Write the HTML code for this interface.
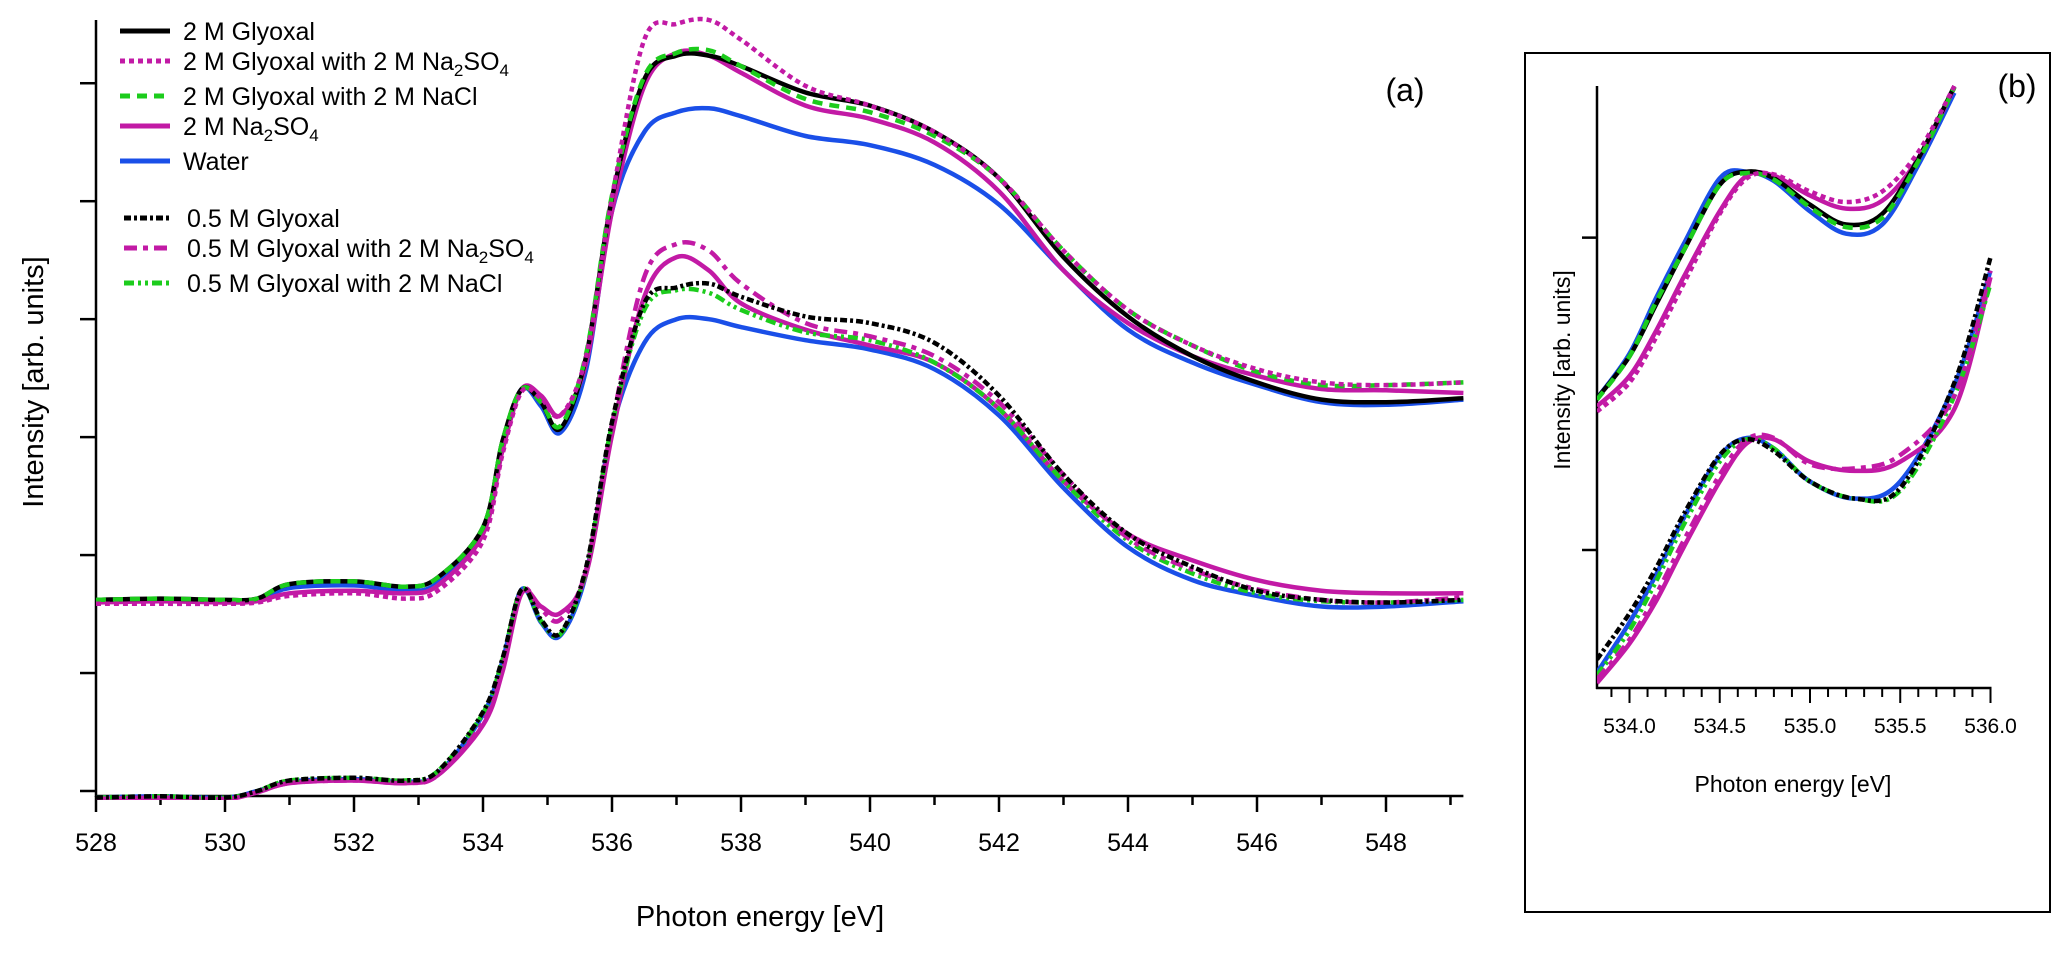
<!DOCTYPE html>
<html><head><meta charset="utf-8"><style>
body{margin:0;background:#fff;}
svg{display:block;font-family:"Liberation Sans",Arial,sans-serif;}
</style></head><body>
<svg id="chart" width="2067" height="955" viewBox="0 0 2067 955">
<defs>
<clipPath id="clipA"><rect x="96" y="15" width="1368" height="785"/></clipPath>
<clipPath id="clipB"><rect x="1597" y="80" width="400" height="608"/></clipPath>
</defs>
<g id="panelA"></g>
<g id="panelB"></g>
</svg>
<script>
const NS="http://www.w3.org/2000/svg";
// ---- Panel (a) data ----
const energyA=[528,529,530,530.5,531,532,532.8,533.3,534,534.3,534.6,534.9,535.2,535.6,536,536.5,537,537.5,538,539,540,541,542,543,544,545,546,547,548,549.2];
const glyoxal2M=[145,146,145,146,157,159,155,162,200,265,305,295,275,330,450,540,558,558,550,530,520,500,465,405,360,330,310,297,295,298];
const glyoxal2MNa2SO4=[142,142,142,143,148,150,146,152,190,255,303,298,285,330,450,570,582,585,570,535,520,500,465,410,365,338,320,310,308,310];
const glyoxal2MNaCl=[145,146,145,146,157,159,155,162,200,265,305,295,277,332,452,542,560,562,550,525,515,497,465,410,365,338,318,308,308,310];
const na2so4Upper=[143,144,143,144,150,152,150,156,195,258,305,300,285,325,440,535,560,558,545,520,510,492,455,395,355,330,315,305,304,302];
const waterUpper=[144,145,144,145,154,156,152,158,198,262,305,292,272,320,440,500,515,518,512,497,490,475,445,395,350,325,308,295,293,297];
const glyoxal05M=[-5,-4,-5,0,8,10,8,15,60,100,153,130,120,170,280,370,382,385,375,360,355,340,300,240,195,170,152,145,143,145];
const glyoxal05MNa2SO4=[-6,-5,-6,-1,6,8,6,12,52,92,152,138,130,168,278,390,415,410,385,355,345,330,295,240,192,168,153,145,143,147];
const glyoxal05MNaCl=[-5,-4,-5,0,8,10,8,15,59,99,153,129,119,168,278,365,380,378,365,348,342,325,290,235,190,165,150,144,143,145];
const na2so4Lower=[-6,-5,-6,-1,6,8,6,12,50,90,150,140,135,165,270,375,405,395,370,350,338,325,290,235,195,175,160,152,150,150];
const waterLower=[-5,-4,-5,0,7,9,7,13,58,98,153,128,118,165,275,340,358,358,352,342,335,320,285,230,185,160,148,140,140,144];
const xTicksA=[528,530,532,534,536,538,540,542,544,546,548];
const yTicksA=[0,89.5,179,268.5,358,447.5,537];
// ---- Panel (b) data ----
const energyBUp=[533.82,534.0,534.15,534.3,534.5,534.65,534.8,535.0,535.2,535.4,535.6,535.8];
const bGlyoxal2M=[115,147,187,227,277,287,282,262,247,255,297,352];
const bWaterUp=[115,149,192,232,282,287,280,257,240,247,292,347];
const bGlyoxal2MNaCl=[114,147,189,227,277,286,281,260,245,252,295,351];
const bNa2so4Up=[109,132,167,207,257,284,284,269,259,265,297,351];
const bGlyoxal2MNa2SO4=[105,127,162,202,255,282,285,272,264,272,302,352];
const energyBLow=[533.82,534.0,534.15,534.3,534.5,534.65,534.8,535.0,535.25,535.5,535.8,536.0];
const bGlyoxal05M=[-83,-48,-13,27,72,84,75,52,39,47,127,222];
const bWaterLow=[-93,-55,-18,24,71,85,77,52,39,52,125,212];
const bGlyoxal05MNaCl=[-95,-61,-23,19,67,84,77,52,39,45,117,202];
const bNa2so4Low=[-101,-71,-38,2,52,81,84,67,60,67,107,207];
const bGlyoxal05MNa2SO4=[-98,-68,-33,7,57,84,85,65,62,72,117,212];
const xTicksB=[534.0,534.5,535.0,535.5,536.0];
const yTicksB=[0,237];

const BLK="#000",MAG="#c21aa5",GRN="#1ccc1c",BLU="#1a4fe8";
const ST={solid:null,dot:"5 4",dash:"10 7",dd:"7 3 3 3",mdd:"13 6 5 6",gdd:"10 4 3 4 3 4"};

function xA(e){return 96+(e-528)*64.5;}
function yA(v){return 791-v*1.318;}
function xB(e){return 1597+(e-533.82)*180.5;}
function yB(v){return 550-v*1.318;}

function el(tag,attrs,parent){const e=document.createElementNS(NS,tag);for(const k in attrs)e.setAttribute(k,attrs[k]);parent.appendChild(e);return e;}
function smooth(pts){let d="M"+pts[0][0].toFixed(1)+","+pts[0][1].toFixed(1);
 for(let i=0;i<pts.length-1;i++){const p0=pts[Math.max(0,i-1)],p1=pts[i],p2=pts[i+1],p3=pts[Math.min(pts.length-1,i+2)];
  const c1=[p1[0]+(p2[0]-p0[0])/6,p1[1]+(p2[1]-p0[1])/6],c2=[p2[0]-(p3[0]-p1[0])/6,p2[1]-(p3[1]-p1[1])/6];
  d+="C"+c1[0].toFixed(1)+","+c1[1].toFixed(1)+" "+c2[0].toFixed(1)+","+c2[1].toFixed(1)+" "+p2[0].toFixed(1)+","+p2[1].toFixed(1);}
 return d;}
function series(parent,xs,ys,fx,fy,color,dash,name,clip){
 const pts=xs.map((x,i)=>[fx(x),fy(ys[i])]);
 const a={d:smooth(pts),fill:"none",stroke:color,"stroke-width":4.5,"clip-path":"url(#"+clip+")","stroke-linejoin":"round"};
 if(dash)a["stroke-dasharray"]=dash;
 const p=el("path",a,parent);
 
 
}

// ---- Panel A ----
const A=document.getElementById("panelA");
let ax=el("line",{x1:96,y1:20,x2:96,y2:797,stroke:"#000","stroke-width":2.5},A);

ax=el("line",{x1:95,y1:796,x2:xA(549.2),y2:796,stroke:"#000","stroke-width":2.5},A);

yTicksA.forEach(v=>{const t=el("line",{x1:80,y1:yA(v),x2:96,y2:yA(v),stroke:"#000","stroke-width":2.5},A);
 });
for(let e=528;e<=549;e++){const big=e%2===0;const t=el("line",{x1:xA(e),y1:796,x2:xA(e),y2:796+(big?16:9),stroke:"#000","stroke-width":2.5},A);
 }
xTicksA.forEach(e=>{const t=el("text",{x:xA(e),y:851,"font-size":25,"text-anchor":"middle",fill:"#000"},A);t.textContent=e;
 });
let t=el("text",{x:760,y:926,"font-size":29,"text-anchor":"middle"},A);t.textContent="Photon energy [eV]";

t=el("text",{x:0,y:0,"font-size":29,"text-anchor":"middle",transform:"translate(43,382) rotate(-90)"},A);t.textContent="Intensity [arb. units]";

t=el("text",{x:1405,y:101,"font-size":32,"text-anchor":"middle"},A);t.textContent="(a)";


series(A,energyA,waterLower,xA,yA,BLU,ST.solid,"water-lower","clipA");
series(A,energyA,na2so4Lower,xA,yA,MAG,ST.solid,"na2so4-lower","clipA");
series(A,energyA,glyoxal05MNaCl,xA,yA,GRN,ST.gdd,"glyoxal-05m-nacl","clipA");
series(A,energyA,glyoxal05MNa2SO4,xA,yA,MAG,ST.mdd,"glyoxal-05m-na2so4","clipA");
series(A,energyA,glyoxal05M,xA,yA,BLK,ST.dd,"glyoxal-05m","clipA");
series(A,energyA,waterUpper,xA,yA,BLU,ST.solid,"water-upper","clipA");
series(A,energyA,na2so4Upper,xA,yA,MAG,ST.solid,"na2so4-upper","clipA");
series(A,energyA,glyoxal2M,xA,yA,BLK,ST.solid,"glyoxal-2m","clipA");
series(A,energyA,glyoxal2MNaCl,xA,yA,GRN,ST.dash,"glyoxal-2m-nacl","clipA");
series(A,energyA,glyoxal2MNa2SO4,xA,yA,MAG,ST.dot,"glyoxal-2m-na2so4","clipA");

// legend
const L=el("g",{},A);
const leg=[[31,BLK,null,"2 M Glyoxal"],[61,MAG,"5 4","2 M Glyoxal with 2 M Na<tspan font-size='17' dy='6'>2</tspan><tspan dy='-6'>SO</tspan><tspan font-size='17' dy='6'>4</tspan>"],
[96,GRN,"10 7","2 M Glyoxal with 2 M NaCl"],[126,MAG,null,"2 M Na<tspan font-size='17' dy='6'>2</tspan><tspan dy='-6'>SO</tspan><tspan font-size='17' dy='6'>4</tspan>"],[161,BLU,null,"Water"],
[218,BLK,"7 3 3 3","0.5 M Glyoxal"],[248,MAG,"13 6 5 6","0.5 M Glyoxal with 2 M Na<tspan font-size='17' dy='6'>2</tspan><tspan dy='-6'>SO</tspan><tspan font-size='17' dy='6'>4</tspan>"],[283,GRN,"10 4 3 4 3 4","0.5 M Glyoxal with 2 M NaCl"]];
leg.forEach((r,i)=>{const g=el("g",{},L);
 const big=i>=5;const a={x1:big?124:120,y1:r[0],x2:big?170:170,y2:r[0],stroke:r[1],"stroke-width":5};if(r[2])a["stroke-dasharray"]=r[2];el("line",a,g);
 const tx=el("text",{x:big?187:183,y:r[0]+9,"font-size":25},g);tx.innerHTML=r[3];});

// ---- Panel B ----
const B=document.getElementById("panelB");
let bx=el("rect",{x:1525,y:53,width:525,height:859,fill:"none",stroke:"#000","stroke-width":2},B);

bx=el("line",{x1:1597,y1:86,x2:1597,y2:689,stroke:"#000","stroke-width":2.5},B);

bx=el("line",{x1:1596,y1:688,x2:xB(536.0)+1,y2:688,stroke:"#000","stroke-width":2.5},B);

yTicksB.forEach(v=>{const tk=el("line",{x1:1582,y1:yB(v),x2:1597,y2:yB(v),stroke:"#000","stroke-width":2.5},B);
 });
for(let e=533.9;e<=536.01;e+=0.1){const big=Math.abs(e*2-Math.round(e*2))<0.01;const tk=el("line",{x1:xB(e),y1:688,x2:xB(e),y2:688+(big?15:9),stroke:"#000","stroke-width":2},B);
 }
xTicksB.forEach(e=>{const tx=el("text",{x:xB(e),y:733,"font-size":21,"text-anchor":"middle"},B);tx.textContent=e.toFixed(1);
 });
t=el("text",{x:1793,y:792,"font-size":23,"text-anchor":"middle"},B);t.textContent="Photon energy [eV]";

t=el("text",{x:0,y:0,"font-size":23,"text-anchor":"middle",transform:"translate(1570,370) rotate(-90)"},B);t.textContent="Intensity [arb. units]";

t=el("text",{x:2017,y:97,"font-size":32,"text-anchor":"middle"},B);t.textContent="(b)";


series(B,energyBUp,bWaterUp,xB,yB,BLU,ST.solid,"b-water-upper","clipB");
series(B,energyBUp,bNa2so4Up,xB,yB,MAG,ST.solid,"b-na2so4-upper","clipB");
series(B,energyBUp,bGlyoxal2M,xB,yB,BLK,ST.solid,"b-glyoxal-2m","clipB");
series(B,energyBUp,bGlyoxal2MNaCl,xB,yB,GRN,ST.dash,"b-glyoxal-2m-nacl","clipB");
series(B,energyBUp,bGlyoxal2MNa2SO4,xB,yB,MAG,ST.dot,"b-glyoxal-2m-na2so4","clipB");
series(B,energyBLow,bWaterLow,xB,yB,BLU,ST.solid,"b-water-lower","clipB");
series(B,energyBLow,bNa2so4Low,xB,yB,MAG,ST.solid,"b-na2so4-lower","clipB");
series(B,energyBLow,bGlyoxal05MNaCl,xB,yB,GRN,ST.gdd,"b-glyoxal-05m-nacl","clipB");
series(B,energyBLow,bGlyoxal05MNa2SO4,xB,yB,MAG,ST.mdd,"b-glyoxal-05m-na2so4","clipB");
series(B,energyBLow,bGlyoxal05M,xB,yB,BLK,ST.dd,"b-glyoxal-05m","clipB");
</script>
</body></html>
